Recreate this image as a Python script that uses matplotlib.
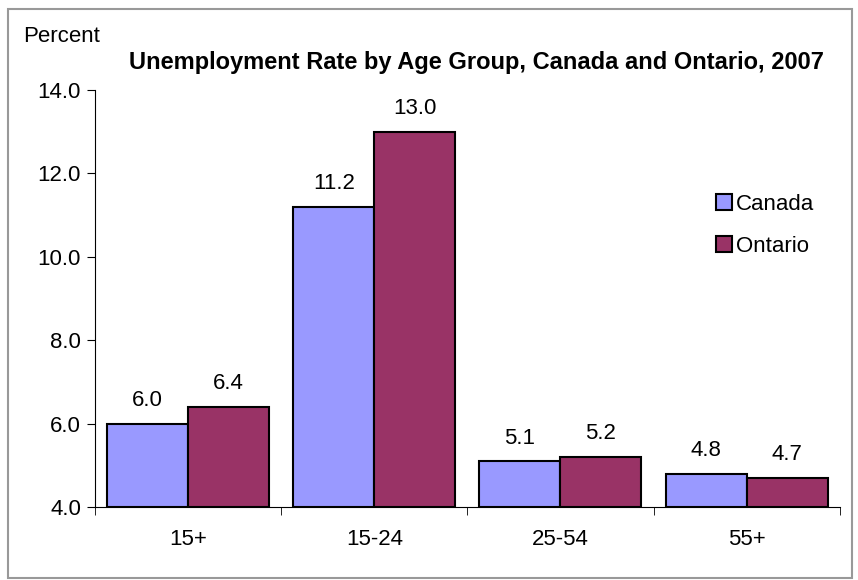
import matplotlib
matplotlib.use("Agg")
import matplotlib.pyplot as plt
from matplotlib.patches import Rectangle
import numpy as np

groups = ["15+", "15-24", "25-54", "55+"]
canada = [6.0, 11.2, 5.1, 4.8]
ontario = [6.4, 13.0, 5.2, 4.7]

plt.rcParams["font.family"] = ["Liberation Sans", "DejaVu Sans"]
fs = 16

fig = plt.figure(figsize=(8.58, 5.8), dpi=100)
ax = fig.add_axes([0.1107, 0.126, 0.868, 0.719])

x = np.arange(len(groups))
w = 0.435
ax.bar(x - w / 2, np.array(canada) - 4, w, bottom=4, color="#9999FF",
       edgecolor="black", linewidth=1.5, label="Canada")
ax.bar(x + w / 2, np.array(ontario) - 4, w, bottom=4, color="#993366",
       edgecolor="black", linewidth=1.5, label="Ontario")

for xi, v in zip(x - w / 2, canada):
    ax.text(xi, v + 0.3, f"{v:.1f}", ha="center", va="bottom", fontsize=fs)
for xi, v in zip(x + w / 2, ontario):
    ax.text(xi, v + 0.3, f"{v:.1f}", ha="center", va="bottom", fontsize=fs)

ax.set_xlim(-0.5, len(groups) - 0.5)
ax.set_ylim(4, 14)
ticks = np.arange(4, 14.1, 2)
ax.set_yticks(ticks)
ax.set_yticklabels([f"{t:.1f}" for t in ticks], fontsize=fs)
ax.set_xticks(x)
ax.set_xticklabels(groups, fontsize=fs)
ax.tick_params(axis="x", length=0, pad=16)
ax.set_xticks(np.arange(-0.5, len(groups)), minor=True)
ax.tick_params(axis="x", which="minor", length=6, direction="out")
ax.tick_params(axis="y", length=6, direction="out", pad=4)
for s in ["top", "right"]:
    ax.spines[s].set_visible(False)

ax.legend(loc="upper left", bbox_to_anchor=(0.822, 0.772), frameon=False,
          fontsize=fs, handlelength=0.7, handleheight=0.7, handletextpad=0.2,
          labelspacing=0.95, borderaxespad=0)

fig.text(0.027, 0.937, "Percent", fontsize=fs, ha="left", va="center")
fig.text(0.555, 0.893, "Unemployment Rate by Age Group, Canada and Ontario, 2007",
         fontsize=17, fontweight="bold", ha="center", va="center")

fig.patches.append(Rectangle((0.009, 0.003), 0.984, 0.982, transform=fig.transFigure,
                             fill=False, edgecolor="#999999", linewidth=1.5))

fig.savefig("out.png", dpi=100)
